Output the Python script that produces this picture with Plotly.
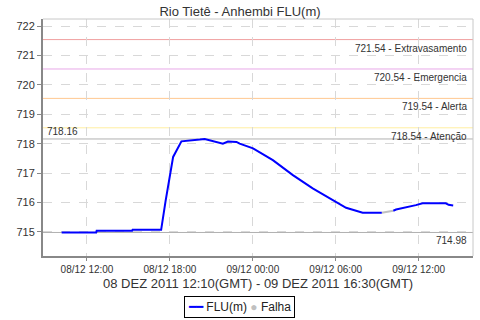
import plotly.graph_objects as go

# ---- data ----
flu_times = [
    "2011-12-08 10:10", "2011-12-08 12:40", "2011-12-08 12:42", "2011-12-08 15:16",
    "2011-12-08 15:18", "2011-12-08 17:22", "2011-12-08 17:41", "2011-12-08 18:14",
    "2011-12-08 18:50", "2011-12-08 19:34", "2011-12-08 20:10", "2011-12-08 20:31",
    "2011-12-08 21:22", "2011-12-08 21:50", "2011-12-08 22:12", "2011-12-08 22:49",
    "2011-12-08 23:03", "2011-12-09 00:01", "2011-12-09 01:27", "2011-12-09 02:54",
    "2011-12-09 04:20", "2011-12-09 06:02", "2011-12-09 06:45", "2011-12-09 07:57",
    "2011-12-09 09:20", None,
    "2011-12-09 10:10", "2011-12-09 10:22", "2011-12-09 11:48", "2011-12-09 12:17",
    "2011-12-09 13:58", "2011-12-09 14:10", "2011-12-09 14:30",
]
flu_values = [
    714.98, 714.98, 715.04, 715.04,
    715.07, 715.07, 716.04, 717.55,
    718.08, 718.10, 718.14, 718.16,
    718.07, 718.00, 718.07, 718.06,
    718.00, 717.84, 717.44, 716.93,
    716.48, 716.02, 715.82, 715.65,
    715.65, None,
    715.72, 715.76, 715.91, 715.97,
    715.97, 715.92, 715.90,
]
falha_times = ["2011-12-09 09:20", "2011-12-09 10:10"]
falha_values = [715.65, 715.72]

level_values = [721.54, 720.54, 719.54, 718.54]
level_names = ["Extravasamento", "Emergencia", "Alerta", "Atenção"]
level_colors = ["#F0A0A0", "#E8A8E8", "#FFC890", "#FFEEA0"]
max_value = 718.16
min_value = 714.98

title = "Rio Tietê - Anhembi FLU(m)"
x_title = "08 DEZ 2011 12:10(GMT) - 09 DEZ 2011 16:30(GMT)"
x_range = ["2011-12-08 08:49", "2011-12-09 15:56"]
y_range = [714.18, 722.24]
y_ticks = [715, 716, 717, 718, 719, 720, 721, 722]

FONT = "Liberation Sans, Arial, sans-serif"

fig = go.Figure()

fig.add_trace(go.Scatter(x=falha_times, y=falha_values, mode="lines",
                         line=dict(color="#C0C0C0", width=2),
                         showlegend=False, hoverinfo="skip"))
fig.add_trace(go.Scatter(x=flu_times, y=flu_values, mode="lines", name="FLU(m)",
                         line=dict(color="#0000FF", width=2), connectgaps=False,
                         showlegend=False))

shapes = []
annotations = []
for v, n, c in zip(level_values, level_names, level_colors):
    shapes.append(dict(type="line", xref="paper", x0=0, x1=1, yref="y", y0=v, y1=v,
                       line=dict(color=c, width=1), layer="below"))
    annotations.append(dict(xref="paper", x=0.99, yref="y", y=v, text=f"{v:.2f} - {n}",
                            showarrow=False, xanchor="right", yanchor="top", yshift=-1,
                            font=dict(family=FONT, size=10, color="#333")))
for v in (max_value, min_value):
    shapes.append(dict(type="line", xref="paper", x0=0, x1=1, yref="y", y0=v, y1=v,
                       line=dict(color="#B0B0B0", width=1), layer="below"))
annotations.append(dict(xref="paper", x=0.005, yref="y", y=max_value, text=f"{max_value:.2f}",
                        showarrow=False, xanchor="left", yanchor="bottom", yshift=0,
                        font=dict(family=FONT, size=10, color="#333")))
annotations.append(dict(xref="paper", x=0.99, yref="y", y=min_value, text=f"{min_value:.2f}",
                        showarrow=False, xanchor="right", yanchor="top", yshift=-1,
                        font=dict(family=FONT, size=10, color="#333")))
# x-axis title
annotations.append(dict(xref="paper", x=0.5, yref="paper", y=-0.078, yanchor="top",
                        xanchor="center", showarrow=False, text=x_title,
                        font=dict(family=FONT, size=13, color="#333")))
# legend box
annotations.append(dict(
    xref="paper", x=0.456, yref="paper", y=-0.17, yanchor="top", xanchor="center",
    showarrow=False, bordercolor="black", borderwidth=1, borderpad=3, bgcolor="white",
    text='<span style="color:#0000FF">━━</span> FLU(m) '
         '<span style="color:#C0C0C0">●</span> Falha',
    font=dict(family=FONT, size=12, color="#222")))
# top / right light border
shapes.append(dict(type="line", xref="paper", yref="paper", x0=0, x1=1, y0=1, y1=1,
                   line=dict(color="#C8C8C8", width=1)))
shapes.append(dict(type="line", xref="paper", yref="paper", x0=1, x1=1, y0=0, y1=1,
                   line=dict(color="#C8C8C8", width=1)))

fig.update_layout(
    width=480, height=320,
    margin=dict(l=43, r=7, t=19, b=64, autoexpand=False),
    paper_bgcolor="white", plot_bgcolor="white",
    font=dict(family=FONT, size=11, color="#333"),
    title=dict(text=title, x=0.5, xanchor="center", y=0.98, yanchor="top",
               font=dict(family=FONT, size=13, color="#333")),
    shapes=shapes, annotations=annotations,
    showlegend=False,
    xaxis=dict(type="date", range=x_range, tickformat="%d/%m %H:%M",
               tick0="2011-12-08 12:00", dtick=6 * 3600 * 1000,
               showgrid=True, gridcolor="#D8D8D8", griddash="dash", gridwidth=1,
               showline=True, linecolor="#888", linewidth=2,
               ticks="outside", ticklen=3, tickcolor="#888",
               tickfont=dict(family=FONT, size=10, color="#333"),
               automargin=False, zeroline=False),
    yaxis=dict(range=y_range, tickvals=y_ticks,
               showgrid=True, gridcolor="#D8D8D8", griddash="dash", gridwidth=1,
               showline=True, linecolor="#888", linewidth=2,
               ticks="outside", ticklen=4, tickcolor="#888",
               tickfont=dict(family=FONT, size=11, color="#333"),
               automargin=False, zeroline=False),
)

fig.write_html("out.html")
